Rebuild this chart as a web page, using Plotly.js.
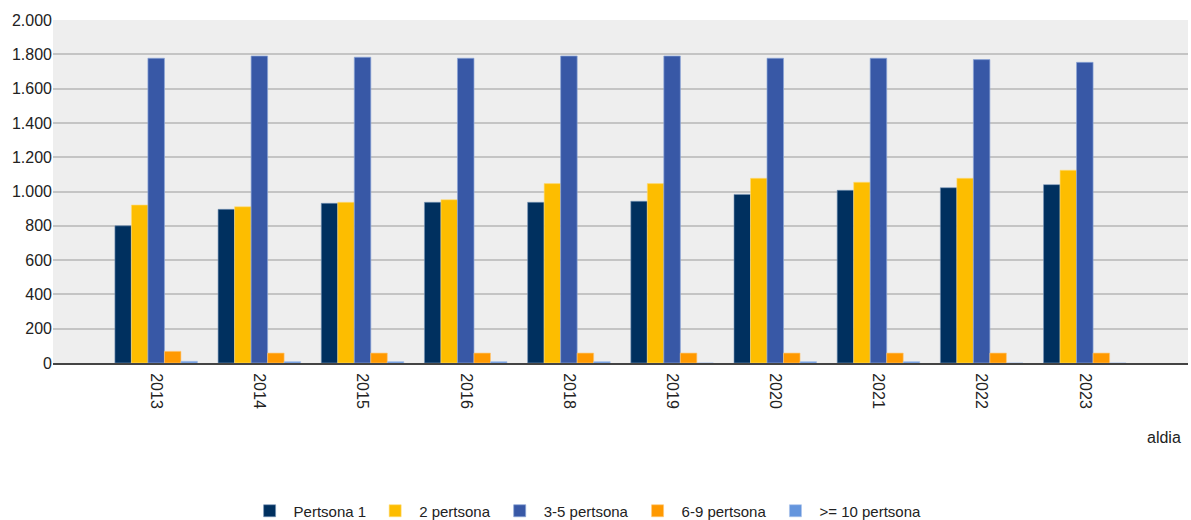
<!DOCTYPE html>
<html><head><meta charset="utf-8">
<script src="https://cdn.plot.ly/plotly-3.0.1.min.js"></script>
<style>html,body{margin:0;padding:0;background:#fff}#chart{width:1191px;height:520px}</style>
</head><body><div id="chart"></div>
<script>
const years = ['2013','2014','2015','2016','2018','2019','2020','2021','2022','2023'];
const seriesNames = ['Pertsona 1','2 pertsona','3-5 pertsona','6-9 pertsona','>= 10 pertsona'];
const persona1 = [800,896,931,937,937,943,983,1007,1022,1040];
const persona2 = [921,911,937,952,1046,1046,1077,1054,1077,1124];
const persona3to5 = [1777,1790,1783,1777,1790,1790,1777,1777,1769,1753];
const persona6to9 = [68,58,58,58,58,58,58,58,58,58];
const persona10plus = [10,8,8,8,8,0,8,8,0,0];
const xAxisTitle = 'aldia';

const seriesValues = [persona1, persona2, persona3to5, persona6to9, persona10plus];
const colors = ['#00305f','#fdbd00','#3858a6','#ff9900','#6495dd'];
const edges = ['rgba(120,150,185,0.6)','rgba(255,220,120,0.6)','rgba(140,165,215,0.7)','rgba(255,200,120,0.6)','rgba(170,195,235,0.6)'];

const font = 'Liberation Sans, Arial, sans-serif';
const traces = seriesValues.map((vals, i) => ({
  type: 'bar',
  name: seriesNames[i],
  x: years,
  y: vals,
  marker: {color: colors[i], line: {color: edges[i], width: 1}},
  hoverinfo: 'x+y+name'
}));

const layout = {
  width: 1191, height: 520,
  margin: {l: 53, r: 3, t: 20, b: 157},
  paper_bgcolor: '#ffffff',
  plot_bgcolor: '#eeeeee',
  separators: ',.',
  font: {family: font, size: 16, color: '#222'},
  barmode: 'group',
  bargap: 0.2,
  bargroupgap: 0,
  showlegend: true,
  legend: {
    orientation: 'h', xref: 'paper', x: 0.1697, xanchor: 'left',
    yref: 'container', y: 0.0173, yanchor: 'middle',
    itemwidth: 38,
    font: {family: font, size: 15, color: '#222'}, itemclick: false, itemdoubleclick: false
  },
  xaxis: {
    type: 'category', range: [-1, 10], tickangle: 90,
    showgrid: false, zeroline: false,
    showline: true, linecolor: '#444', linewidth: 2,
    ticks: '', ticklabelstandoff: 5,
    tickfont: {family: font, size: 16, color: '#222'},
    fixedrange: true
  },
  yaxis: {
    range: [0, 2000], dtick: 200, tickformat: ',d',
    showgrid: true, gridcolor: '#c4c4c4', gridwidth: 2,
    zeroline: false, showline: false, ticks: '',
    tickfont: {family: font, size: 16, color: '#222'},
    fixedrange: true
  },
  annotations: [{
    text: xAxisTitle, xref: 'paper', yref: 'paper', x: 0.9956, y: -0.216,
    xanchor: 'right', yanchor: 'middle', showarrow: false,
    font: {family: font, size: 16, color: '#222'}
  }]
};

Plotly.newPlot('chart', traces, layout, {displayModeBar: false});
</script></body></html>
